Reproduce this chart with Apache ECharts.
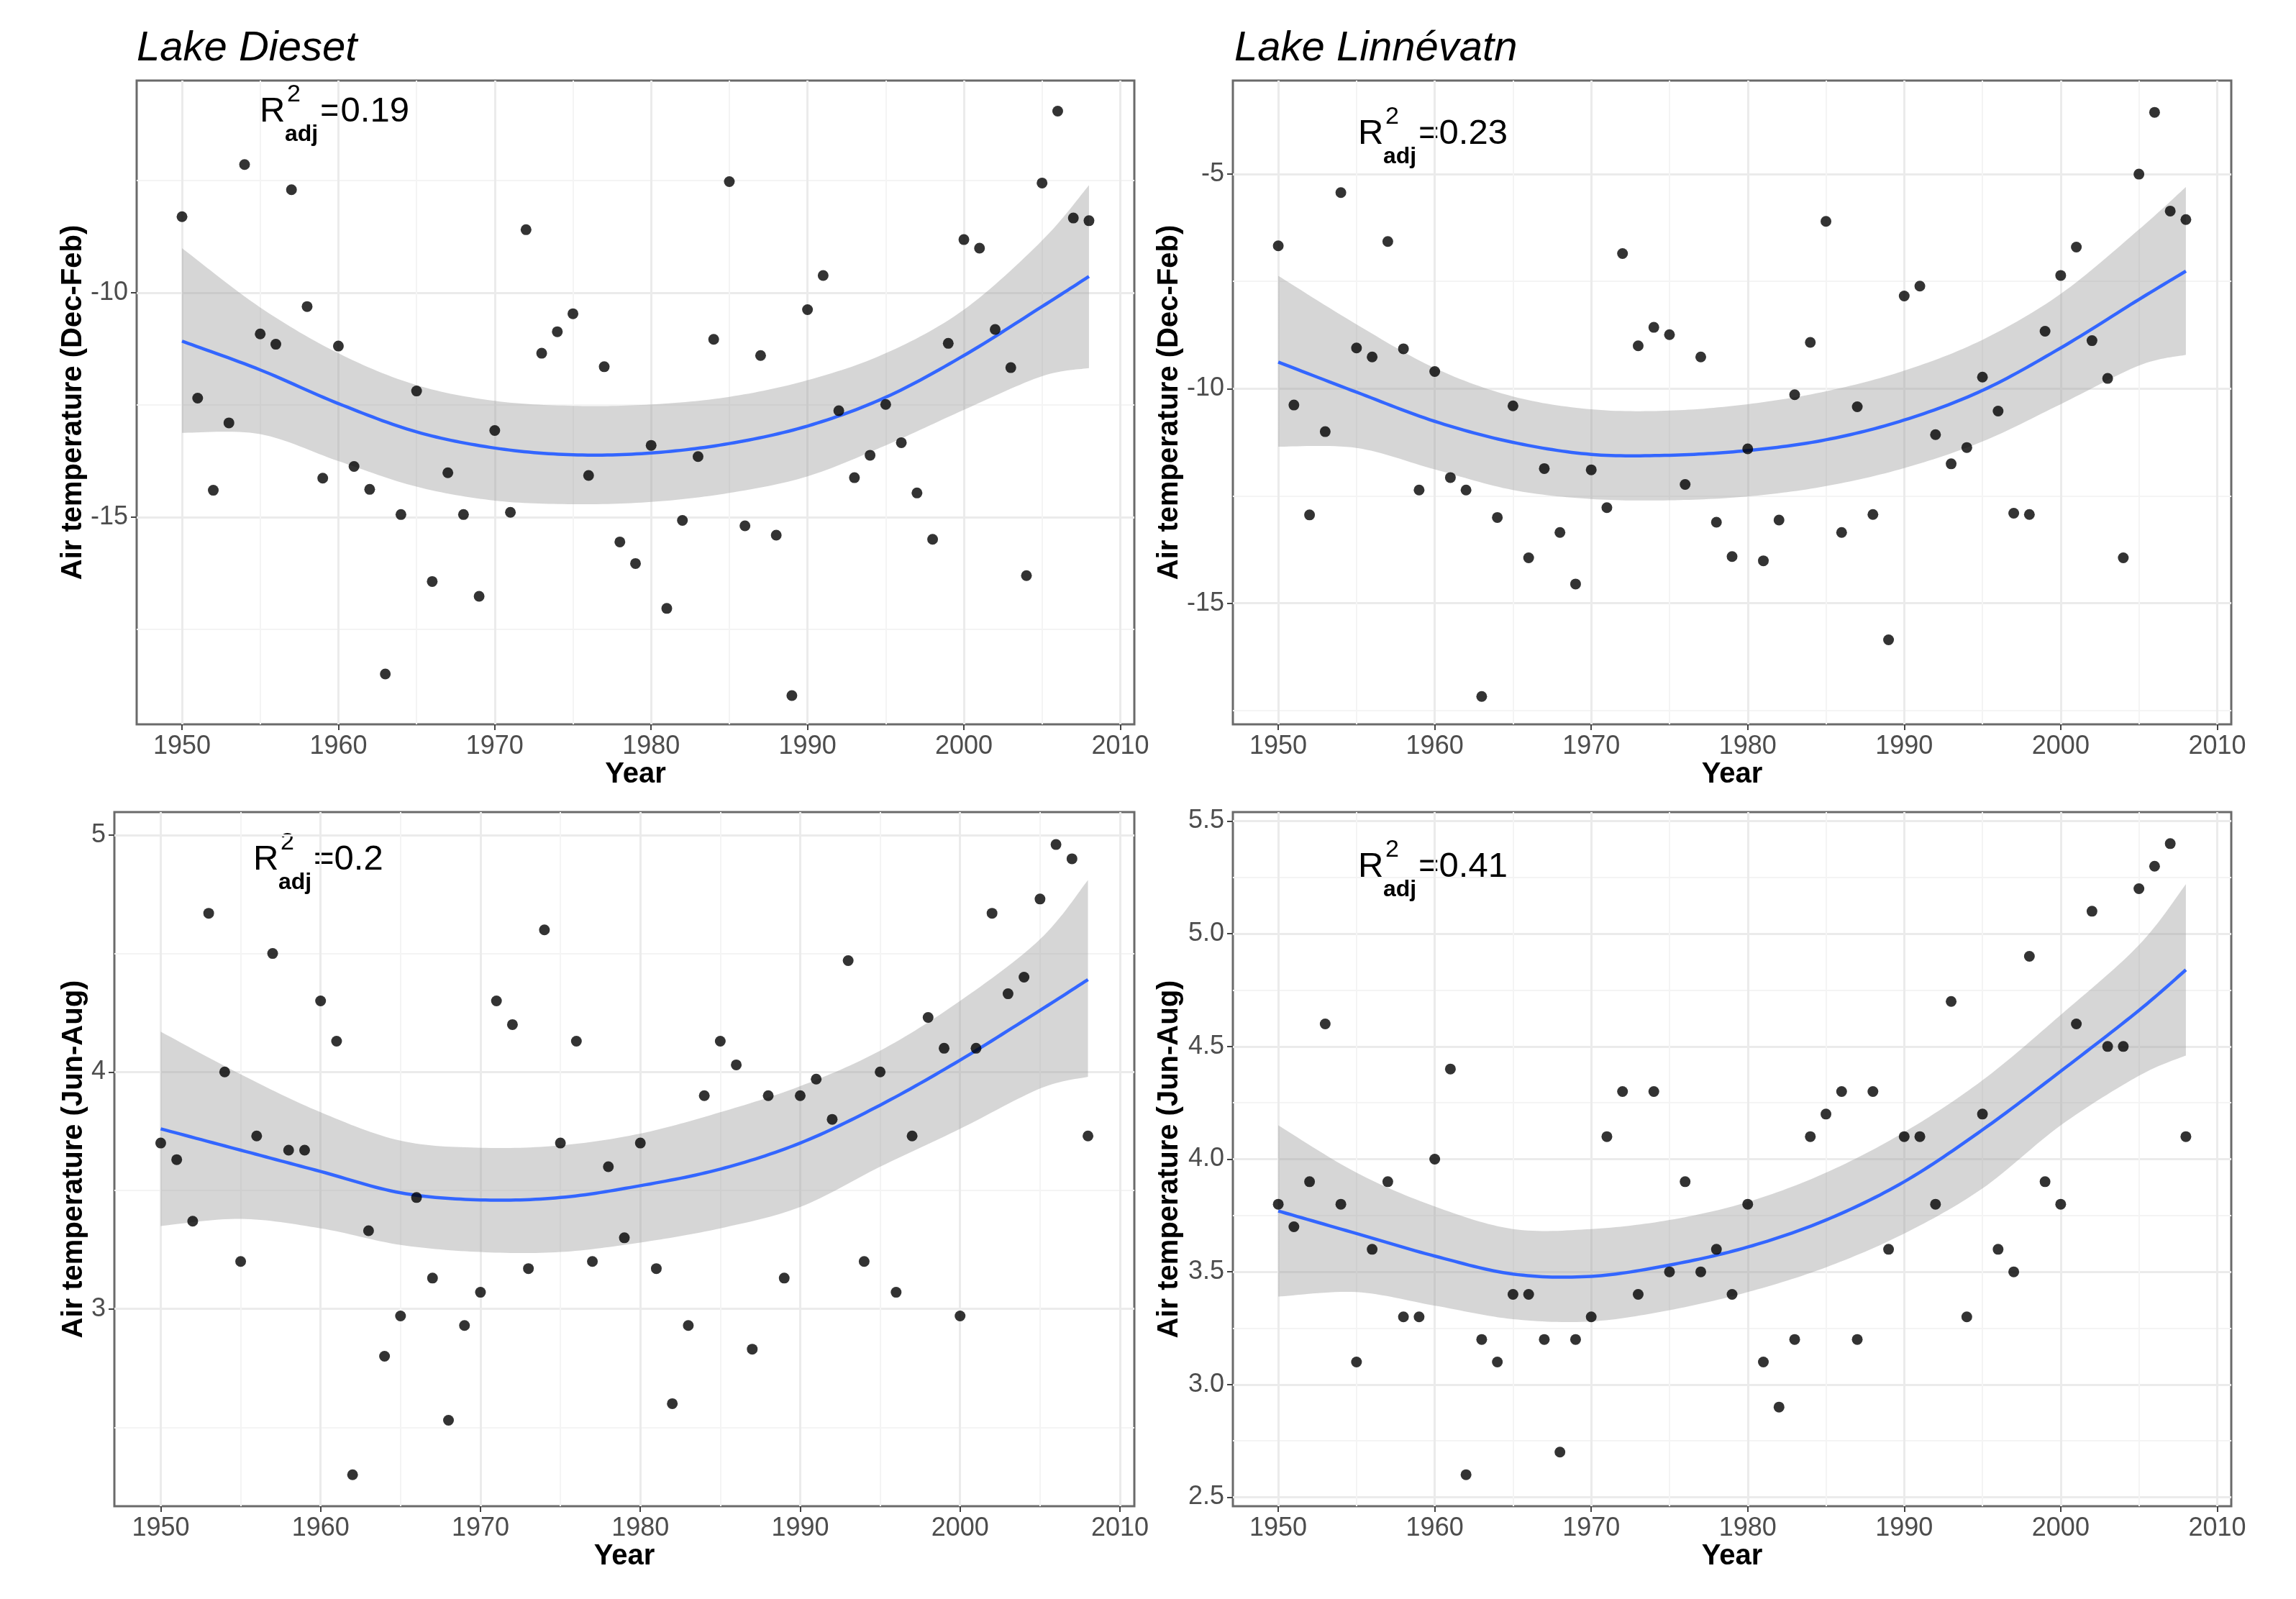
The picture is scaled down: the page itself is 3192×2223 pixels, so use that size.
<!DOCTYPE html>
<html>
<head>
<meta charset="utf-8">
<script src="https://cdn.jsdelivr.net/npm/echarts@6/dist/echarts.min.js"></script>
<style>
html,body{margin:0;padding:0;background:#fff;}
#chart{width:3192px;height:2223px;}
</style>
</head>
<body>
<div id="chart"></div>
<script>
// ---------------- data ----------------
const years = [1950,1951,1952,1953,1954,1955,1956,1957,1958,1959,
               1960,1961,1962,1963,1964,1965,1966,1967,1968,1969,
               1970,1971,1972,1973,1974,1975,1976,1977,1978,1979,
               1980,1981,1982,1983,1984,1985,1986,1987,1988,1989,
               1990,1991,1992,1993,1994,1995,1996,1997,1998,1999,
               2000,2001,2002,2003,2004,2005,2006,2007,2008];

const diesetWinter = [-8.31,-12.35,-14.40,-12.90,-7.15,-10.92,-11.15,-7.71,-10.31,-14.13,
  -11.19,-13.87,-14.38,-18.49,-14.94,-12.19,-16.43,-14.01,-14.94,-16.76,
  -13.07,-14.89,-8.60,-11.35,-10.87,-10.47,-14.07,-11.65,-15.55,-16.03,
  -13.40,-17.03,-15.07,-13.65,-11.04,-7.53,-15.19,-11.40,-15.40,-18.97,
  -10.38,-9.62,-12.63,-14.12,-13.62,-12.49,-13.34,-14.46,-15.49,-11.13,
  -8.82,-9.01,-10.82,-11.67,-16.30,-7.56,-5.96,-8.34,-8.40];

const linneWinter = [-6.67,-10.38,-12.94,-11.00,-5.43,-9.05,-9.26,-6.57,-9.07,-12.36,
  -9.60,-12.07,-12.36,-17.17,-13.00,-10.40,-13.94,-11.86,-13.35,-14.55,
  -11.89,-12.77,-6.85,-9.00,-8.57,-8.74,-12.23,-9.26,-13.11,-13.91,
  -11.40,-14.01,-13.06,-10.14,-8.92,-6.10,-13.35,-10.42,-12.93,-15.85,
  -7.84,-7.61,-11.07,-11.75,-11.37,-9.73,-10.52,-12.90,-12.93,-8.66,
  -7.36,-6.70,-8.88,-9.76,-13.94,-5.00,-3.56,-5.86,-6.06];

const diesetSummer = [3.70,3.63,3.37,4.67,4.00,3.20,3.73,4.50,3.67,3.67,
  4.30,4.13,2.30,3.33,2.80,2.97,3.47,3.13,2.53,2.93,
  3.07,4.30,4.20,3.17,4.60,3.70,4.13,3.20,3.60,3.30,
  3.70,3.17,2.60,2.93,3.90,4.13,4.03,2.83,3.90,3.13,
  3.90,3.97,3.80,4.47,3.20,4.00,3.07,3.73,4.23,4.10,
  2.97,4.10,4.67,4.33,4.40,4.73,4.96,4.90,3.73];

const linneSummer = [3.8,3.7,3.9,4.6,3.8,3.1,3.6,3.9,3.3,3.3,
  4.0,4.4,2.6,3.2,3.1,3.4,3.4,3.2,2.7,3.2,
  3.3,4.1,4.3,3.4,4.3,3.5,3.9,3.5,3.6,3.4,
  3.8,3.1,2.9,3.2,4.1,4.2,4.3,3.2,4.3,3.6,
  4.1,4.1,3.8,4.7,3.3,4.2,3.6,3.5,4.9,3.9,
  3.8,4.6,5.1,4.5,4.5,5.2,5.3,5.4,4.1];

// fitted curve and confidence band, read at these years
const fitYears = [1950,1955,1960,1965,1970,1975,1980,1985,1990,1995,2000,2005,2008];

const diesetWinterFit   = [-11.08,-11.72,-12.47,-13.10,-13.46,-13.61,-13.57,-13.36,-12.97,-12.33,-11.40,-10.31,-9.64];
const diesetWinterUpper = [-9.01,-10.33,-11.35,-12.06,-12.41,-12.52,-12.49,-12.32,-11.95,-11.35,-10.38,-8.84,-7.61];
const diesetWinterLower = [-13.12,-13.15,-13.75,-14.32,-14.63,-14.71,-14.66,-14.46,-14.09,-13.40,-12.61,-11.86,-11.68];

const linneWinterFit   = [-9.38,-10.08,-10.76,-11.25,-11.53,-11.55,-11.44,-11.19,-10.73,-10.04,-9.05,-7.92,-7.26];
const linneWinterUpper = [-7.37,-8.50,-9.52,-10.18,-10.48,-10.51,-10.36,-10.06,-9.58,-8.86,-7.79,-6.29,-5.30];
const linneWinterLower = [-11.35,-11.38,-11.88,-12.36,-12.57,-12.60,-12.51,-12.27,-11.85,-11.23,-10.36,-9.46,-9.21];

const diesetSummerFit   = [3.76,3.67,3.58,3.49,3.46,3.47,3.52,3.59,3.70,3.86,4.05,4.26,4.39];
const diesetSummerUpper = [4.17,3.99,3.83,3.71,3.68,3.69,3.74,3.83,3.94,4.09,4.30,4.56,4.81];
const diesetSummerLower = [3.35,3.38,3.34,3.27,3.24,3.24,3.28,3.34,3.43,3.60,3.76,3.93,3.98];

const linneSummerFit   = [3.77,3.67,3.57,3.49,3.48,3.53,3.61,3.73,3.90,4.13,4.39,4.66,4.84];
const linneSummerUpper = [4.15,3.94,3.79,3.69,3.69,3.73,3.81,3.94,4.12,4.35,4.64,4.95,5.22];
const linneSummerLower = [3.39,3.41,3.35,3.29,3.28,3.33,3.41,3.52,3.67,3.87,4.15,4.37,4.46];

// tick labels
const xMajorTicks = [1950,1960,1970,1980,1990,2000,2010];
const xMinorTicks = [1955,1965,1975,1985,1995,2005];
const winterDiesetTicks = [-15,-10];
const winterLinneTicks  = [-15,-10,-5];
const winterMinorTicks  = [-17.5,-12.5,-7.5];
const summerDiesetTicks = [3,4,5];
const summerDiesetMinor = [2.5,3.5,4.5];
const summerLinneTicks  = [2.5,3.0,3.5,4.0,4.5,5.0,5.5];
const summerLinneMinor  = [2.75,3.25,3.75,4.25,4.75,5.25];

const titles = ['Lake Dieset','Lake Linnévatn'];
const yTitles = ['Air temperature (Dec-Feb)','Air temperature (Dec-Feb)','Air temperature (Jun-Aug)','Air temperature (Jun-Aug)'];
const r2Labels = ['0.19','0.23','0.2','0.41'];

// ---------------- layout ----------------
const FONT = '"Liberation Sans", Arial, Helvetica, sans-serif';
const panels = [
  {grid:{left:190, top:112, width:1387, height:895}, y:diesetWinter, fit:diesetWinterFit, up:diesetWinterUpper, lo:diesetWinterLower,
   ymin:-19.61, ymax:-5.28, major:winterDiesetTicks, minor:winterMinorTicks, fmt:v=>String(v), yGap:64, xGap:50, r2:[361,172]},
  {grid:{left:1714, top:112, width:1388, height:895}, y:linneWinter, fit:linneWinterFit, up:linneWinterUpper, lo:linneWinterLower,
   ymin:-17.82, ymax:-2.82, major:winterLinneTicks, minor:winterMinorTicks, fmt:v=>String(v), yGap:68, xGap:50, r2:[1888,203]},
  {grid:{left:159, top:1129, width:1418, height:965}, y:diesetSummer, fit:diesetSummerFit, up:diesetSummerUpper, lo:diesetSummerLower,
   ymin:2.167, ymax:5.097, major:summerDiesetTicks, minor:summerDiesetMinor, fmt:v=>String(v), yGap:33, xGap:46, r2:[352,1212]},
  {grid:{left:1714, top:1129, width:1388, height:965}, y:linneSummer, fit:linneSummerFit, up:linneSummerUpper, lo:linneSummerLower,
   ymin:2.46, ymax:5.54, major:summerLinneTicks, minor:summerLinneMinor, fmt:v=>Number(v).toFixed(1), yGap:68, xGap:46, r2:[1888,1222]}
];

// Catmull-Rom sampling of screen points (rendering only)
function sampleCurve(pts, seg) {
  const out = [];
  const n = pts.length;
  for (let i = 0; i < n - 1; i++) {
    const p0 = pts[i - 1] || pts[i], p1 = pts[i], p2 = pts[i + 1], p3 = pts[i + 2] || pts[i + 1];
    for (let s = 0; s < seg; s++) {
      const t = s / seg, t2 = t * t, t3 = t2 * t;
      const f = (a, b, c, d) => 0.5 * ((2 * b) + (-a + c) * t + (2 * a - 5 * b + 4 * c - d) * t2 + (-a + 3 * b - 3 * c + d) * t3);
      out.push([f(p0[0], p1[0], p2[0], p3[0]), f(p0[1], p1[1], p2[1], p3[1])]);
    }
  }
  out.push(pts[n - 1]);
  return out;
}

function bandRenderer(xs, up, lo) {
  return function (params, api) {
    if (params.dataIndex !== 0) return null;
    const upPts = xs.map((x, k) => api.coord([x, up[k]]));
    const loPts = xs.map((x, k) => api.coord([x, lo[k]]));
    const top = sampleCurve(upPts, 16);
    const bottom = sampleCurve(loPts, 16).reverse();
    return {type:'polygon', shape:{points: top.concat(bottom)}, style:{fill:'rgba(153,153,153,0.4)'}, silent:true};
  };
}

function lineRenderer(xs, ys) {
  return function (params, api) {
    if (params.dataIndex !== 0) return null;
    const pts = xs.map((x, k) => api.coord([x, ys[k]]));
    return {type:'polyline', shape:{points: sampleCurve(pts, 16)},
      style:{stroke:'#3366FF', lineWidth:4.5, fill:null, lineJoin:'round', lineCap:'butt'}, silent:true};
  };
}

const grids = [], xAxes = [], yAxes = [], series = [], graphics = [];

panels.forEach((p, i) => {
  grids.push(Object.assign({show:true, borderColor:'#6a6a6a', borderWidth:3, backgroundColor:'transparent', containLabel:false}, p.grid));
  xAxes.push({type:'value', gridIndex:i, min:1947.1, max:2010.9, position:'bottom',
    axisLine:{show:false},
    axisTick:{show:true, customValues:xMajorTicks, length:8, lineStyle:{color:'#444', width:2}},
    axisLabel:{show:true, customValues:xMajorTicks, fontSize:36, color:'#4d4d4d', fontFamily:FONT, margin:13, formatter:v=>String(v)},
    splitLine:{show:true, lineStyle:{color:'#ebebeb', width:3}},
    name:'Year', nameLocation:'middle', nameGap:p.xGap,
    nameTextStyle:{fontSize:40, fontWeight:'bold', color:'#000', fontFamily:FONT}});
  xAxes.push({type:'value', gridIndex:i, min:1947.1, max:2010.9, position:'top',
    axisLine:{show:false}, axisTick:{show:false, customValues:xMinorTicks},
    axisLabel:{show:false, customValues:xMinorTicks},
    splitLine:{show:true, lineStyle:{color:'#f4f4f4', width:2}}});
  yAxes.push({type:'value', gridIndex:i, min:p.ymin, max:p.ymax, position:'left',
    axisLine:{show:false},
    axisTick:{show:true, customValues:p.major, length:8, lineStyle:{color:'#444', width:2}},
    axisLabel:{show:true, customValues:p.major, fontSize:36, color:'#4d4d4d', fontFamily:FONT, margin:12, formatter:p.fmt},
    splitLine:{show:true, lineStyle:{color:'#ebebeb', width:3}},
    name:yTitles[i], nameLocation:'middle', nameGap:p.yGap,
    nameTextStyle:{fontSize:40, fontWeight:'bold', color:'#000', fontFamily:FONT}});
  yAxes.push({type:'value', gridIndex:i, min:p.ymin, max:p.ymax, position:'right',
    axisLine:{show:false}, axisTick:{show:false, customValues:p.minor},
    axisLabel:{show:false, customValues:p.minor},
    splitLine:{show:true, lineStyle:{color:'#f4f4f4', width:2}}});

  const xi = 2*i, yi = 2*i;
  const bandData = fitYears.map((x, k) => [x, p.lo[k], p.up[k]]);
  const fitData = fitYears.map((x, k) => [x, p.fit[k]]);
  const pts = years.map((x, k) => [x, p.y[k]]);

  series.push({type:'custom', xAxisIndex:xi, yAxisIndex:yi, data:bandData, encode:{x:0, y:[1,2]},
    renderItem:bandRenderer(fitYears, p.up, p.lo), silent:true, z:1});
  series.push({type:'custom', xAxisIndex:xi, yAxisIndex:yi, data:fitData, encode:{x:0, y:1},
    renderItem:lineRenderer(fitYears, p.fit), silent:true, z:3});
  series.push({type:'scatter', xAxisIndex:xi, yAxisIndex:yi, data:pts, symbol:'circle', symbolSize:15, silent:true,
    itemStyle:{color:'#000'}, z:4});

  const x0 = p.r2[0], b = p.r2[1];
  graphics.push({type:'text', x:x0, y:b-17, style:{text:'R', font:'49px '+FONT, fill:'#000', verticalAlign:'middle', align:'left'}});
  graphics.push({type:'text', x:x0+38, y:b-40, style:{text:'2', font:'34px '+FONT, fill:'#000', verticalAlign:'middle', align:'left'}});
  graphics.push({type:'text', x:x0+35, y:b+15, style:{text:'adj', font:'bold 32px '+FONT, fill:'#000', verticalAlign:'middle', align:'left'}});
  graphics.push({type:'text', x:x0+84, y:b-17, style:{text:'=' + r2Labels[i], font:'49px '+FONT, fill:'#000', verticalAlign:'middle', align:'left'}});
});

graphics.push({type:'text', x:190, y:68, style:{text:titles[0], font:'italic 58px '+FONT, fill:'#000', verticalAlign:'middle', align:'left'}});
graphics.push({type:'text', x:1716, y:68, style:{text:titles[1], font:'italic 58px '+FONT, fill:'#000', verticalAlign:'middle', align:'left'}});

const chart = echarts.init(document.getElementById('chart'), null, {renderer:'canvas', width:3192, height:2223});
chart.setOption({
  backgroundColor:'#fff',
  animation:false,
  grid:grids,
  xAxis:xAxes,
  yAxis:yAxes,
  series:series,
  graphic:graphics
});
</script>
</body>
</html>
